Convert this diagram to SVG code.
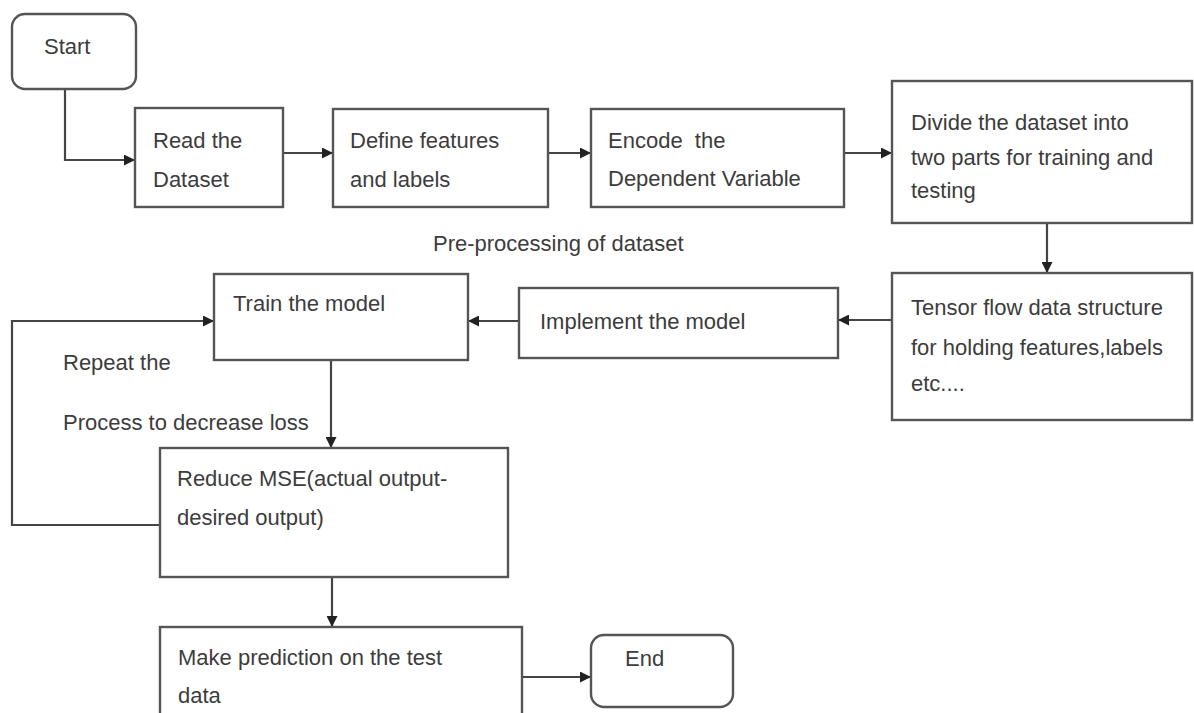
<svg xmlns="http://www.w3.org/2000/svg" width="1194" height="713" viewBox="0 0 1194 713">
<defs>
<marker id="ah" viewBox="0 0 10 10" refX="10" refY="5" markerWidth="11" markerHeight="11" markerUnits="userSpaceOnUse" orient="auto">
<path d="M0,0 L10,5 L0,10 z" fill="#222"/>
</marker>
<style>
.box{fill:#fff;stroke:#555;stroke-width:2.4}
.t{font-family:"Liberation Sans",Arial,sans-serif;font-size:22px;fill:#3c3c3c}
.c{fill:none;stroke:#444;stroke-width:2.2}
</style>
</defs>
<rect width="1194" height="713" fill="#fff"/>
<g id="connectors">
<path class="c" d="M65,89 V160 H135" marker-end="url(#ah)"/>
<path class="c" d="M283,153 H333" marker-end="url(#ah)"/>
<path class="c" d="M548,153 H591" marker-end="url(#ah)"/>
<path class="c" d="M844,153 H892" marker-end="url(#ah)"/>
<path class="c" d="M1047,223 V273" marker-end="url(#ah)"/>
<path class="c" d="M892,320 H838" marker-end="url(#ah)"/>
<path class="c" d="M519,321 H468" marker-end="url(#ah)"/>
<path class="c" d="M160,525 H12 V321 H214" marker-end="url(#ah)"/>
<path class="c" d="M331,360 V448" marker-end="url(#ah)"/>
<path class="c" d="M332,577 V627" marker-end="url(#ah)"/>
<path class="c" d="M522,677 H591" marker-end="url(#ah)"/>
</g>
<g id="start"><rect class="box" x="12" y="14" width="124" height="75" rx="13"/><text class="t" x="44" y="54">Start</text></g>
<g id="read"><rect class="box" x="135" y="108" width="148" height="99"/><text class="t" x="153" y="148">Read the</text><text class="t" x="153" y="187">Dataset</text></g>
<g id="define"><rect class="box" x="333" y="109" width="215" height="98"/><text class="t" x="350" y="148">Define features</text><text class="t" x="350" y="187">and labels</text></g>
<g id="encode"><rect class="box" x="591" y="109" width="253" height="98"/><text class="t" x="608" y="148" xml:space="preserve">Encode  the</text><text class="t" x="608" y="186">Dependent Variable</text></g>
<g id="divide"><rect class="box" x="892" y="81" width="300" height="142"/><text class="t" x="911" y="130">Divide the dataset into</text><text class="t" x="911" y="165">two parts for training and</text><text class="t" x="911" y="198">testing</text></g>
<g id="label-pre"><text class="t" x="433" y="251">Pre-processing of dataset</text></g>
<g id="tensor"><rect class="box" x="892" y="273" width="300" height="147"/><text class="t" x="911" y="315">Tensor flow data structure</text><text class="t" x="911" y="355">for holding features,labels</text><text class="t" x="911" y="391">etc....</text></g>
<g id="implement"><rect class="box" x="519" y="288" width="319" height="70"/><text class="t" x="540" y="329">Implement the model</text></g>
<g id="train"><rect class="box" x="214" y="274" width="254" height="86"/><text class="t" x="233" y="311">Train the model</text></g>
<g id="label-repeat"><text class="t" x="63" y="370">Repeat the</text><text class="t" x="63" y="430">Process to decrease loss</text></g>
<g id="reduce"><rect class="box" x="160" y="448" width="348" height="129"/><text class="t" x="177" y="486">Reduce MSE(actual output-</text><text class="t" x="177" y="525">desired output)</text></g>
<g id="predict"><rect class="box" x="160" y="627" width="362" height="100"/><text class="t" x="178" y="665">Make prediction on the test</text><text class="t" x="178" y="703">data</text></g>
<g id="end"><rect class="box" x="591" y="635" width="142" height="72" rx="13"/><text class="t" x="625" y="666">End</text></g>
</svg>
